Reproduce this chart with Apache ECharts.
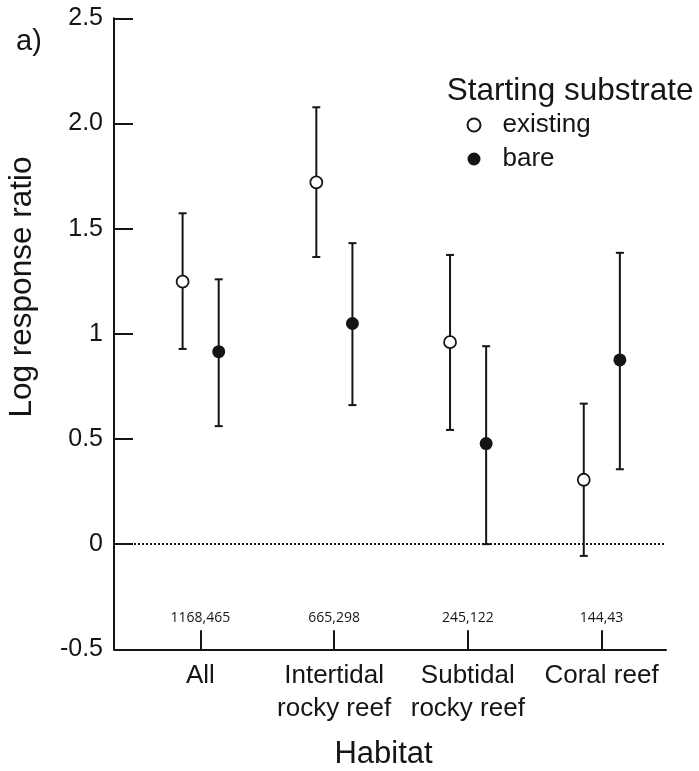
<!DOCTYPE html>
<html>
<head>
<meta charset="utf-8">
<script src="https://cdn.jsdelivr.net/npm/echarts@6/dist/echarts.min.js"></script>
<style>
html,body{margin:0;padding:0;background:#fff;}
#chart{width:699px;height:771px;}
</style>
</head>
<body>
<div id="chart"></div>
<script>
// ---- data ----
var categories = ['All', 'Intertidal\nrocky reef', 'Subtidal\nrocky reef', 'Coral reef'];
var sampleSizes = ['1168,465', '665,298', '245,122', '144,43'];
var existingMean = [1.248, 1.72, 0.96, 0.306];
var existingLow  = [0.928, 1.365, 0.543, -0.056];
var existingHigh = [1.573, 2.077, 1.375, 0.668];
var bareMean = [0.915, 1.049, 0.478, 0.876];
var bareLow  = [0.561, 0.661, 0.0, 0.356];
var bareHigh = [1.259, 1.431, 0.941, 1.385];
var yTickValues = [-0.5, 0, 0.5, 1, 1.5, 2, 2.5];
var yTickLabels = ['-0.5', '0', '0.5', '1', '1.5', '2.0', '2.5'];

var INK = '#151515';
var FONT = '"Liberation Sans", Arial, sans-serif';
var OFF_E = -0.133, OFF_B = 0.137;
var catPos = categories.map(function (c, i) { return i + 1; });

function pts(means, off) {
  return means.map(function (m, i) { return [i + 1 + off, m]; });
}
function errs(lo, hi, off) {
  return lo.map(function (l, i) { return [i + 1 + off, l, hi[i]]; });
}
function renderErr(params, api) {
  var x = api.value(0);
  var p1 = api.coord([x, api.value(1)]);
  var p2 = api.coord([x, api.value(2)]);
  var cap = 4;
  var st = { stroke: INK, lineWidth: 2 };
  return {
    type: 'group',
    children: [
      { type: 'line', shape: { x1: p1[0], y1: p1[1], x2: p2[0], y2: p2[1] }, style: st },
      { type: 'line', shape: { x1: p1[0] - cap, y1: p1[1], x2: p1[0] + cap, y2: p1[1] }, style: st },
      { type: 'line', shape: { x1: p2[0] - cap, y1: p2[1], x2: p2[0] + cap, y2: p2[1] }, style: st }
    ]
  };
}

var chart = echarts.init(document.getElementById('chart'), null, { renderer: 'canvas' });
var option = {
  backgroundColor: '#fff',
  animation: false,
  grid: { left: 114, top: 18.3, width: 552, height: 631, containLabel: false },
  xAxis: [{
    type: 'value', min: 0.354, max: 4.482,
    axisLine: { show: true, onZero: false, lineStyle: { color: INK, width: 2 } },
    splitLine: { show: false },
    axisTick: { show: true, inside: true, length: 19, customValues: catPos, lineStyle: { color: INK, width: 2 } },
    axisLabel: {
      show: true, customValues: catPos, margin: 10,
      fontFamily: FONT, fontSize: 26, lineHeight: 33, color: INK,
      formatter: function (v) { return categories[Math.round(v) - 1] || ''; }
    }
  }, {
    type: 'value', min: 0.354, max: 4.482, position: 'bottom',
    axisLine: { show: false }, splitLine: { show: false }, axisTick: { show: false },
    axisLabel: {
      show: true, inside: true, customValues: catPos, margin: 24,
      fontFamily: '"Open Sans", sans-serif', fontSize: 14, color: INK,
      formatter: function (v) { return sampleSizes[Math.round(v) - 1] || ''; }
    }
  }],
  yAxis: {
    type: 'value', min: -0.5, max: 2.5, interval: 0.5,
    axisLine: { show: true, onZero: false, lineStyle: { color: INK, width: 2 } },
    splitLine: { show: false },
    axisTick: { show: true, inside: true, length: 19, lineStyle: { color: INK, width: 2 } },
    axisLabel: {
      margin: 11, fontFamily: FONT, fontSize: 25, color: INK,
      formatter: function (v) {
        for (var i = 0; i < yTickValues.length; i++) {
          if (Math.abs(yTickValues[i] - v) < 1e-6) return yTickLabels[i];
        }
        return '';
      }
    }
  },
  legend: {
    orient: 'vertical', left: 466.5, top: 112, padding: 0,
    itemWidth: 13, itemHeight: 13, itemGap: 8,
    data: ['existing', 'bare'],
    textStyle: { fontFamily: FONT, fontSize: 26, lineHeight: 26, color: INK, padding: [0, 0, 0, 17] }
  },
  graphic: [
    { type: 'text', left: 16, top: 27, style: { text: 'a)', font: '29px ' + FONT, fill: INK } },
    { type: 'text', x: 446.7, y: 91, style: { text: 'Starting substrate', font: '31.5px ' + FONT, fill: INK, textAlign: 'left', textVerticalAlign: 'middle' } },
    { type: 'text', x: 22, y: 287, rotation: Math.PI / 2, style: { text: 'Log response ratio', font: '31.5px ' + FONT, fill: INK, textAlign: 'center', textVerticalAlign: 'middle' } },
    { type: 'text', x: 383.5, y: 754, style: { text: 'Habitat', font: '31px ' + FONT, fill: INK, textAlign: 'center', textVerticalAlign: 'middle' } }
  ],
  series: [
    {
      name: 'zero', type: 'line', data: [], silent: true,
      markLine: {
        silent: true, symbol: 'none', label: { show: false },
        lineStyle: { color: INK, width: 1.8, type: [2, 2] },
        data: [{ yAxis: 0 }]
      }
    },
    { name: 'errExisting', type: 'custom', renderItem: renderErr, data: errs(existingLow, existingHigh, OFF_E), z: 3, silent: true },
    { name: 'errBare', type: 'custom', renderItem: renderErr, data: errs(bareLow, bareHigh, OFF_B), z: 3, silent: true },
    {
      name: 'existing', type: 'scatter', symbol: 'circle', symbolSize: 12, z: 5,
      itemStyle: { color: '#fff', borderColor: INK, borderWidth: 1.8, opacity: 1 },
      data: pts(existingMean, OFF_E)
    },
    {
      name: 'bare', type: 'scatter', symbol: 'circle', symbolSize: 13, z: 5,
      itemStyle: { color: INK, borderColor: INK, borderWidth: 0, opacity: 1 },
      data: pts(bareMean, OFF_B)
    }
  ]
};
chart.setOption(option);
</script>
</body>
</html>
